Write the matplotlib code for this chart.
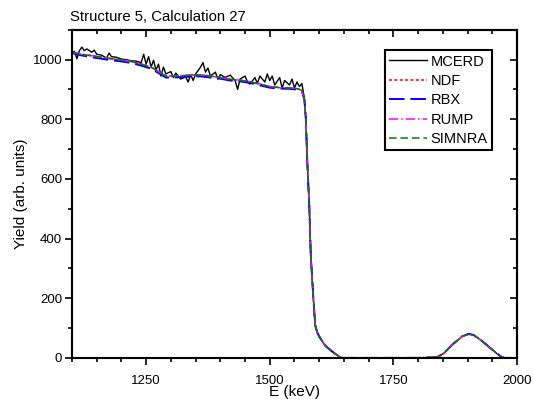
import matplotlib
matplotlib.use('Agg')
import matplotlib.pyplot as plt
from matplotlib.ticker import MultipleLocator

plt.rcParams['font.family'] = ['Liberation Sans', 'DejaVu Sans']

# simulated spectra (energy in keV, yield in arb. units)
sim_energy = [1100, 1120, 1140, 1160, 1180, 1200, 1220, 1240, 1260, 1280, 1290,
              1300, 1320, 1340, 1360, 1380, 1400, 1420, 1440, 1460, 1480, 1500,
              1520, 1540, 1555, 1565, 1570, 1573, 1576, 1580, 1583, 1588, 1592,
              1596, 1600, 1613, 1627, 1640, 1646, 1700, 1800, 1838, 1852, 1869,
              1889, 1902, 1912, 1929, 1946, 1959, 1969, 1975, 2000]
sim_yield = [1025, 1018, 1013, 1008, 1003, 999, 994, 985, 975, 955, 945,
             945, 946, 948, 949, 945, 940, 934, 931, 926, 918, 910,
             906, 905, 903, 897, 866, 800, 655, 508, 340, 206, 110,
             85, 72, 40, 20, 5, 0, 0, 0, 2, 15, 44,
             72, 80, 77, 57, 33, 15, 3, 0, 0]
rbx_yield = [1022, 1014, 1008, 1003, 998, 994, 989, 980, 970, 950, 940,
             940, 941, 943, 944, 940, 936, 930, 927, 922, 914, 906,
             903, 902, 900, 895, 866, 800, 655, 508, 340, 206, 110,
             85, 72, 40, 20, 5, 0, 0, 0, 2, 15, 44,
             72, 80, 77, 57, 33, 15, 3, 0, 0]

# MCERD Monte Carlo spectrum (noisy)
mcerd_energy = [1100, 1105, 1110, 1115, 1120, 1125, 1130, 1140, 1145, 1150, 1160,
                1170, 1175, 1180, 1190, 1200, 1210, 1220, 1230, 1240, 1245, 1250,
                1255, 1260, 1265, 1270, 1275, 1280, 1285, 1290, 1300, 1305, 1310,
                1320, 1330, 1335, 1340, 1345, 1350, 1360, 1365, 1370, 1375, 1380,
                1390, 1395, 1400, 1410, 1420, 1430, 1435, 1440, 1450, 1455, 1460,
                1470, 1475, 1480, 1490, 1495, 1500, 1505, 1510, 1520, 1525, 1530,
                1540, 1545, 1550, 1555, 1560, 1565, 1570, 1573, 1576, 1580, 1583,
                1588, 1592, 1600, 1613, 1627, 1640, 1646, 1700, 1800, 1838, 1852,
                1869, 1889, 1902, 1912, 1929, 1946, 1959, 1969, 1975, 2000]
mcerd_yield = [1020, 1028, 1003, 1030, 1042, 1030, 1036, 1025, 1032, 1018, 1015,
               1005, 1022, 1010, 1008, 1002, 1000, 996, 995, 990, 1018, 985,
               1010, 975, 998, 965, 985, 945, 975, 952, 960, 940, 955,
               935, 942, 925, 950, 930, 952, 975, 990, 958, 972, 945,
               958, 935, 950, 940, 948, 930, 900, 935, 945, 925, 918,
               940, 920, 945, 925, 952, 930, 945, 915, 940, 905, 930,
               915, 935, 905, 925, 910, 920, 870, 800, 650, 500, 345,
               200, 105, 70, 38, 20, 5, 0, 0, 0, 2, 15,
               44, 72, 80, 77, 57, 33, 15, 3, 0, 0]

fig = plt.figure(figsize=(5.33, 4.03), dpi=100)
ax = fig.add_axes([0.135, 0.112, 0.835, 0.814])

ax.plot(mcerd_energy, mcerd_yield, color='black', lw=1.0, label='MCERD')
ax.plot(sim_energy, sim_yield, color='red', lw=1.1, ls=(0, (2, 1.5)), label='NDF')
ax.plot(sim_energy, rbx_yield, color='blue', lw=1.4, ls=(0, (8, 3)), label='RBX')
ax.plot(sim_energy, sim_yield, color='magenta', lw=1.1, ls=(0, (6, 2, 1, 2)), label='RUMP')
ax.plot(sim_energy, sim_yield, color='green', lw=1.1, ls=(0, (5, 2.5)), label='SIMNRA')

ax.set_xlim(1100, 2000)
ax.set_ylim(0, 1100)
ax.xaxis.set_major_locator(MultipleLocator(250))
ax.xaxis.set_minor_locator(MultipleLocator(50))
ax.yaxis.set_major_locator(MultipleLocator(200))
ax.yaxis.set_minor_locator(MultipleLocator(100))
ax.tick_params(which='major', direction='out', length=5, width=1.2, labelsize=9.5, pad=2)
ax.tick_params(axis='x', which='major', pad=7)
ax.tick_params(which='minor', direction='out', length=3, width=1.2)
for s in ax.spines.values():
    s.set_linewidth(1.5)

# mirrored axes with inward ticks
top = ax.secondary_xaxis('top')
top.xaxis.set_major_locator(MultipleLocator(250))
top.xaxis.set_minor_locator(MultipleLocator(50))
top.tick_params(which='major', direction='in', length=5, width=1.2, labeltop=False)
top.tick_params(which='minor', direction='in', length=3, width=1.2)
right = ax.secondary_yaxis('right')
right.yaxis.set_major_locator(MultipleLocator(200))
right.yaxis.set_minor_locator(MultipleLocator(100))
right.tick_params(which='major', direction='in', length=5, width=1.2, labelright=False)
right.tick_params(which='minor', direction='in', length=3, width=1.2)
for sa in (top, right):
    for s in sa.spines.values():
        s.set_linewidth(1.5)

ax.set_xlabel('E (keV)', fontsize=11, labelpad=-1)
ax.set_ylabel('Yield (arb. units)', fontsize=11, labelpad=3)
fig.text(0.131, 0.948, 'Structure 5, Calculation 27', fontsize=10.7)

leg = ax.legend(loc='upper right', bbox_to_anchor=(0.944, 0.938), fontsize=10.5,
                handlelength=2.6, labelspacing=0.37, handletextpad=0.25,
                borderpad=0.3, borderaxespad=0, fancybox=False, framealpha=1,
                edgecolor='black')
leg.get_frame().set_linewidth(1.5)

fig.savefig('out.png', dpi=100)
